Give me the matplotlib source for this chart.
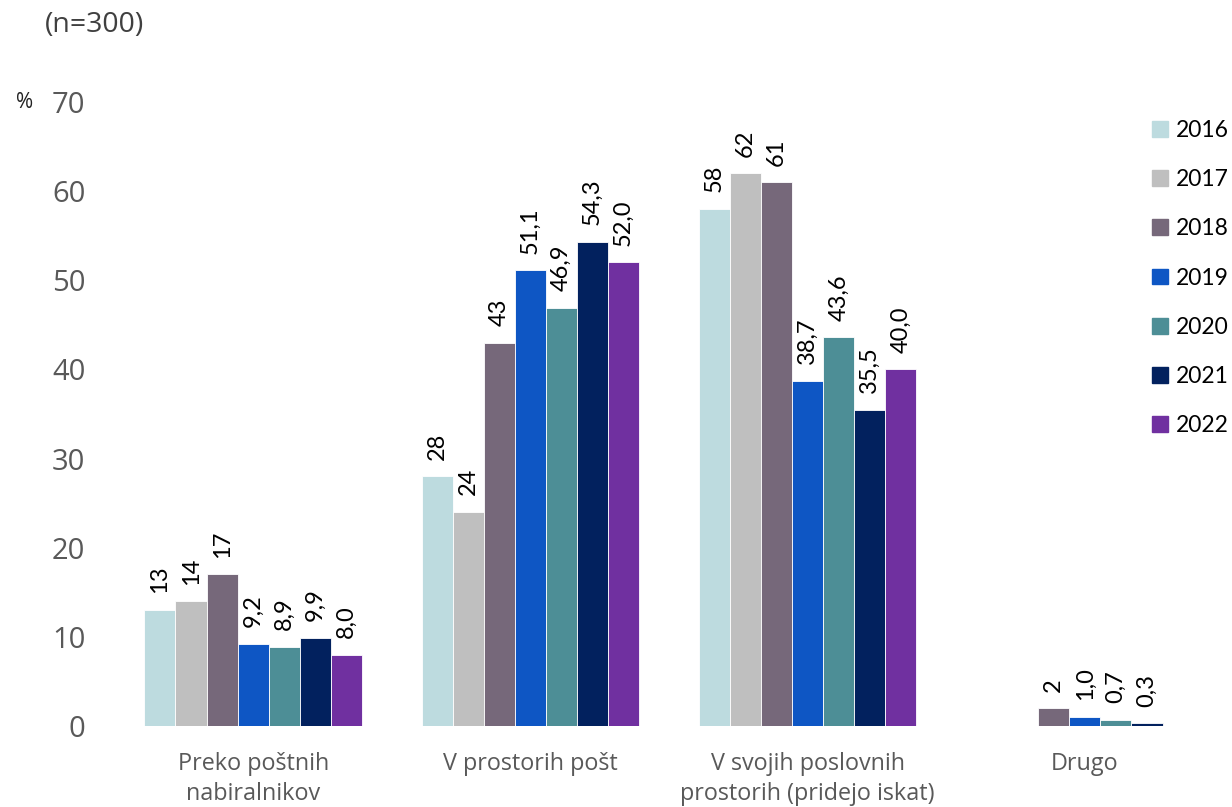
import matplotlib
matplotlib.use("Agg")
import matplotlib.pyplot as plt
import matplotlib.patches as mpatches
import numpy as np

# -----------------------------
# Data
# -----------------------------
categories = ["Preko poštnih\nnabiralnikov", "V prostorih pošt",
              "V svojih poslovnih\nprostorih (pridejo iskat)", "Drugo"]
years = ["2016", "2017", "2018", "2019", "2020", "2021", "2022"]
v2016 = [13, 28, 58, np.nan]
v2017 = [14, 24, 62, np.nan]
v2018 = [17, 43, 61, 2]
v2019 = [9.2, 51.1, 38.7, 1.0]
v2020 = [8.9, 46.9, 43.6, 0.7]
v2021 = [9.9, 54.3, 35.5, 0.3]
v2022 = [8.0, 52.0, 40.0, np.nan]
series = [v2016, v2017, v2018, v2019, v2020, v2021, v2022]
decimals = [0, 0, 0, 1, 1, 1, 1]
colors = ["#BDDBDF", "#BFBFBF", "#76687A", "#0E56C4", "#4D8E96", "#02215E", "#7030A0"]

label_font = "Lato"
axis_font = "Open Sans"

fig = plt.figure(figsize=(12.32, 8.07), dpi=100)
ax = fig.add_axes([114.5 / 1232, 81 / 807, 1109 / 1232, 624 / 807])

x = np.arange(len(categories))
w = 0.112
for i, (vals, col, dec) in enumerate(zip(series, colors, decimals)):
    vals = np.array(vals, dtype=float)
    pos = x + (i - 3) * w
    mask = ~np.isnan(vals)
    bars = ax.bar(pos[mask], vals[mask], width=w, color=col,
                  edgecolor="white", linewidth=0.6)
    labels = [f"{v:.{dec}f}".replace(".", ",") for v in vals[mask]]
    ax.bar_label(bars, labels=labels, rotation=90, padding=12,
                 fontsize=17, family=label_font, color="black")

ax.set_xlim(-0.5, 3.5)
ax.set_ylim(0, 70)
ax.set_yticks(range(0, 71, 10))
ax.set_xticks(x)
ax.set_xticklabels(categories, fontsize=16.8, family=axis_font,
                   color="#595959", linespacing=1.33)
ax.tick_params(axis="y", length=0, pad=21, labelsize=21, labelcolor="#595959")
ax.tick_params(axis="x", length=0, pad=19)
for lab in ax.get_yticklabels():
    lab.set_family(axis_font)
for s in ax.spines.values():
    s.set_visible(False)

handles = [mpatches.Patch(color=c, label=y) for c, y in zip(colors, years)]
fig.legend(handles=handles, loc="upper left", bbox_to_anchor=(1152 / 1232, 1 - 120 / 807),
           frameon=False, prop={"family": label_font, "size": 16.5},
           handlelength=0.68, handleheight=0.68, handletextpad=0.35,
           labelspacing=1.23, borderaxespad=0, borderpad=0)

fig.text(45 / 1232, 1 - 25 / 807, "(n=300)", fontsize=20.5, family=axis_font,
         color="#404040", va="center", ha="left")
fig.text(16 / 1232, 1 - 103 / 807, "%", fontsize=15, family=axis_font,
         color="#222222", va="center", ha="left")

fig.savefig("out.png", dpi=100)
